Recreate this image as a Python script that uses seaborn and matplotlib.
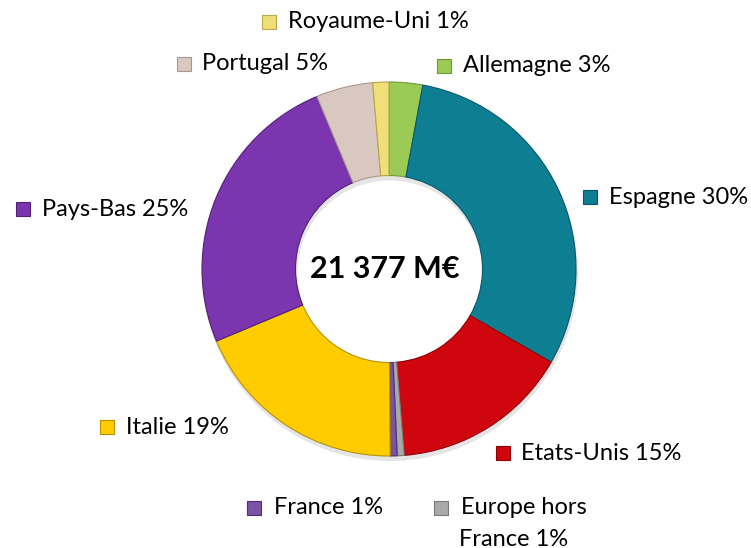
import matplotlib
matplotlib.use("Agg")
import matplotlib.pyplot as plt
import seaborn as sns

# ---- data ----
countries = ["Allemagne", "Espagne", "Etats-Unis", "Europe hors France", "France",
             "Italie", "Pays-Bas", "Portugal", "Royaume-Uni"]
shares = [2.9, 30.4, 15.4, 0.6, 0.6, 18.8, 25.0, 4.9, 1.4]
label_pct = ["3%", "30%", "15%", "1%", "1%", "19%", "25%", "5%", "1%"]
total_label = "21 377 M€"

colors = ["#9BCB55", "#0E7F93", "#D0060E", "#A9A9A9", "#7A52A6",
          "#FFCC00", "#7B35AF", "#D8C8C0", "#EEDF78"]
edges = ["#6E9A35", "#08586A", "#8E0006", "#7A7A7A", "#4E2F75",
         "#B89200", "#522078", "#A89890", "#B8A848"]

sns.set_theme(style="white")
plt.rcParams["font.family"] = ["Lato", "DejaVu Sans"]

W, H = 751, 548
fig = plt.figure(figsize=(W / 100, H / 100), dpi=100)
ax = fig.add_axes([0, 0, 1, 1])

cx, cy, R = 389, 269, 187

# faint drop shadow under the ring
ax.pie([1], colors=["#000000"], radius=R + 1, center=(cx + 1, H - cy - 4),
       wedgeprops=dict(width=R * 0.5 + 2, linewidth=0, alpha=0.10), frame=True)

wedges, _ = ax.pie(shares, colors=sns.color_palette(colors), startangle=90,
                   counterclock=False, radius=R, center=(cx, H - cy),
                   wedgeprops=dict(width=R * 0.5, linewidth=0.8),
                   frame=True)
for w, e in zip(wedges, edges):
    w.set_edgecolor(e)

ax.set_xlim(0, W)
ax.set_ylim(0, H)
ax.set_aspect("equal", adjustable="box")
ax.axis("off")

ax.text(cx - 4, H - cy, total_label, ha="center", va="center",
        fontsize=22, fontweight="bold", color="black")

# label layout (pixel coords from top-left): marker x, text x, y
layout = {
    "Royaume-Uni": (269, 288, 22),
    "Portugal": (184, 202, 64),
    "Allemagne": (444, 463, 66),
    "Espagne": (590, 609, 197),
    "Pays-Bas": (23, 42, 209),
    "Italie": (107, 126, 427),
    "Etats-Unis": (503, 521, 453),
    "France": (254, 274, 508),
    "Europe hors France": (441, 461, 508),
}
for name, pct, col, e in zip(countries, label_pct, colors, edges):
    mx, tx, ty = layout[name]
    ax.plot([mx], [H - ty], marker="s", markersize=9.5, color=col,
            markeredgecolor=e, markeredgewidth=0.8, clip_on=False)
    if name == "Europe hors France":
        ax.text(tx, H - ty, "Europe hors", ha="left", va="center",
                fontsize=17, color="black")
        ax.text(tx + 53, H - ty - 31, "France " + pct, ha="center", va="center",
                fontsize=17, color="black")
    else:
        ax.text(tx, H - ty, f"{name} {pct}", ha="left", va="center",
                fontsize=17, color="black")

fig.savefig("out.png", dpi=100)
